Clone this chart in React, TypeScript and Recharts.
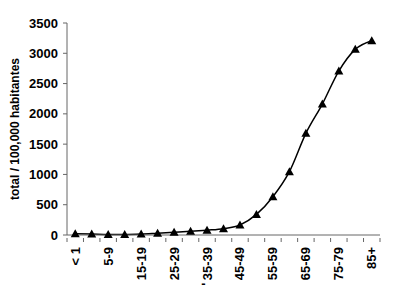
import { LineChart, Line, XAxis, YAxis } from 'recharts';

const ageGroups = [
  '< 1', '1-4', '5-9', '10-14', '15-19', '20-24', '25-29', '30-34', '35-39', '40-44',
  '45-49', '50-54', '55-59', '60-64', '65-69', '70-74', '75-79', '80-84', '85+',
];
const rates = [20, 15, 8, 8, 15, 30, 45, 60, 80, 105, 165, 340, 632, 1045, 1678, 2162, 2707, 3065, 3207];
const yTicks = [0, 500, 1000, 1500, 2000, 2500, 3000, 3500];

const data = ageGroups.map((age, i) => ({ age, rate: rates[i] }));

const font = '"Liberation Sans", Arial, sans-serif';

const Triangle = (props: any) => {
  const { cx, cy } = props;
  if (cx == null || cy == null) return null;
  return <polygon points={`${cx},${cy - 4.5} ${cx - 4.5},${cy + 3.5} ${cx + 4.5},${cy + 3.5}`} fill="#000" />;
};

// tick marks sit on the category boundaries, labels on every other category
const AgeTick = (props: any) => {
  const { x, y, payload, index } = props;
  const half = payload.offset || 0;
  return (
    <g>
      <line x1={x - half} y1={y - 5} x2={x - half} y2={y - 1} stroke="#666" />
      {index === ageGroups.length - 1 && (
        <line x1={x + half} y1={y - 5} x2={x + half} y2={y - 1} stroke="#666" />
      )}
      {index % 2 === 0 && (
        <text
          x={x}
          y={y + 4}
          transform={`rotate(-90, ${x}, ${y + 4})`}
          textAnchor="end"
          dominantBaseline="central"
          fontFamily={font}
          fontWeight="bold"
          fontSize={13}
          fill="#000"
        >
          {payload.value}
        </text>
      )}
    </g>
  );
};

export default function App() {
  return (
    <div style={{ position: 'absolute', left: 0, top: 0, background: '#fff' }}>
      <LineChart width={400} height={290} data={data} margin={{ top: 23, right: 20, bottom: 0, left: 0 }}>
        <XAxis
          dataKey="age"
          scale="band"
          interval={0}
          tick={<AgeTick />}
          tickLine={false}
          stroke="#666"
          height={55}
          label={{ value: '-', position: 'insideBottom', dx: -20, dy: 3, fontFamily: font, fontWeight: 'bold', fontSize: 13, fill: '#000' }}
        />
        <YAxis
          domain={[0, 3500]}
          ticks={yTicks}
          width={67}
          stroke="#666"
          tickSize={4}
          tickMargin={5}
          tick={{ fontFamily: font, fontWeight: 'bold', fontSize: 13, fill: '#000' }}
          label={{
            value: 'total / 100,000 habitantes',
            angle: -90,
            position: 'insideLeft',
            dx: 10,
            style: { textAnchor: 'middle', fontFamily: font, fontWeight: 'bold', fontSize: 12, fill: '#000' },
          }}
        />
        <Line
          type="monotone"
          dataKey="rate"
          stroke="#000"
          strokeWidth={1.5}
          dot={<Triangle />}
          activeDot={false}
          isAnimationActive={false}
        />
      </LineChart>
    </div>
  );
}
